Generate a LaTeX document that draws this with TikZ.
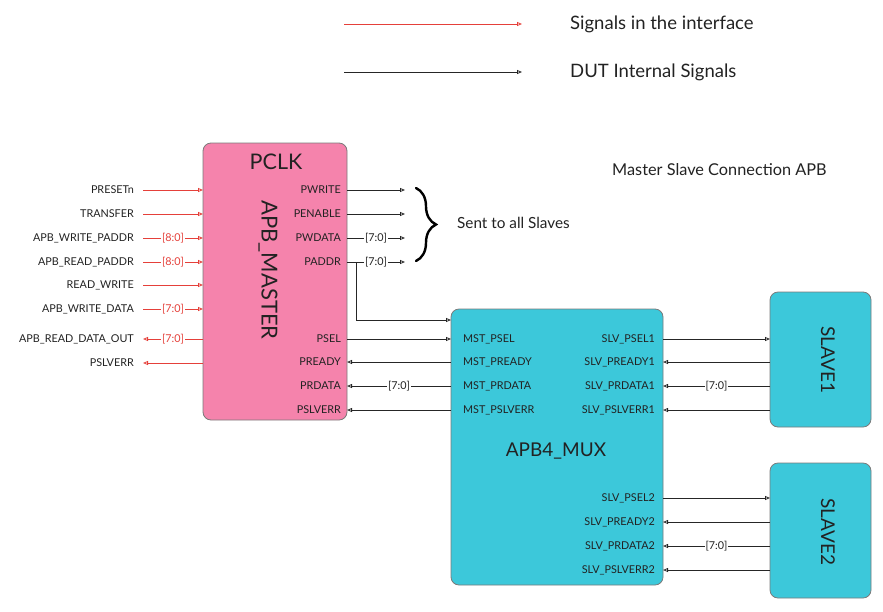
\documentclass[tikz,border=0pt]{standalone}
\usepackage{fontspec}
\setmainfont{Lato}
\usetikzlibrary{arrows.meta,decorations.pathreplacing}
\definecolor{sigred}{HTML}{E5403A}
\definecolor{pinkfill}{HTML}{F583AC}
\definecolor{cyanfill}{HTML}{3CC8DA}
\definecolor{boxline}{HTML}{7A7A7A}
\definecolor{txt}{HTML}{222222}
\begin{document}
\begin{tikzpicture}[x=1pt,y=-1pt,
  tip/.style={-{Triangle[open,length=5pt,width=4pt]}},
  wire/.style={tip,line width=0.8pt,draw=black!85},
  rwire/.style={tip,line width=0.8pt,draw=sigred},
  pin/.style={font=\fontsize{10.8}{12}\selectfont,text=txt,inner sep=0pt},
  bus/.style={font=\fontsize{10.8}{12}\selectfont,fill=white,inner xsep=1pt,inner ysep=1pt,text=txt},
  rbus/.style={bus,text=sigred},
  block/.style={draw=boxline,line width=0.8pt,rounded corners=8pt,inner sep=0pt},
  title/.style={text=txt,inner sep=0pt}
]
\path[use as bounding box] (0,0) rectangle (883,611);

% legend
\coordinate (lr1) at (344,24);
\coordinate (lr2) at (522,24);
\coordinate (lb1) at (344,72);
\coordinate (lb2) at (522,72);
\draw[rwire] (lr1) -- (lr2);
\draw[wire] (lb1) -- (lb2);
\node[title,anchor=west,font=\fontsize{18.5}{22}\selectfont] (leg1) at (570,24) {Signals in the interface};
\node[title,anchor=west,font=\fontsize{18.5}{22}\selectfont] (leg2) at (570,72) {DUT Internal Signals};

\node[title,anchor=west,font=\fontsize{16.3}{19}\selectfont] (caption) at (612,170) {Master Slave Connection APB};

% blocks
\node[block,fill=pinkfill,minimum width=144pt,minimum height=277pt] (master) at (275,281.5) {};
\node[title,font=\fontsize{21.5}{25}\selectfont] (pclk) at (276,162) {PCLK};
\node[title,font=\fontsize{22}{26}\selectfont,rotate=-90] (mastername) at (268,270) {APB\_MASTER};

\node[block,fill=cyanfill,minimum width=212pt,minimum height=276pt] (mux) at (557,447) {};
\node[title,font=\fontsize{19}{22}\selectfont] (muxname) at (556,451) {APB4\_MUX};

\node[block,fill=cyanfill,minimum width=101pt,minimum height=135pt] (s1) at (820.5,359.5) {};
\node[title,font=\fontsize{19}{22}\selectfont,rotate=-90] (s1name) at (828,360) {SLAVE1};
\node[block,fill=cyanfill,minimum width=101pt,minimum height=135pt] (s2) at (820.5,530.5) {};
\node[title,font=\fontsize{19}{22}\selectfont,rotate=-90] (s2name) at (828,532) {SLAVE2};

% master left interface
\foreach \n/\y/\t in {i1/190/PRESETn,i2/214/TRANSFER,i3/238/APB\_WRITE\_PADDR,i4/262/APB\_READ\_PADDR,i5/285/READ\_WRITE,i6/309/APB\_WRITE\_DATA,o1/339/APB\_READ\_DATA\_OUT,o2/363/PSLVERR}{
  \node[pin,anchor=east,inner xsep=9pt] (l\n) at (143,\y) {\t};
  \coordinate (m\n) at (203,\y);
}
\draw[rwire] (li1.east) -- (mi1);
\draw[rwire] (li2.east) -- (mi2);
\draw[rwire] (li3.east) -- node[rbus]{[8:0]} (mi3);
\draw[rwire] (li4.east) -- node[rbus]{[8:0]} (mi4);
\draw[rwire] (li5.east) -- (mi5);
\draw[rwire] (li6.east) -- node[rbus]{[7:0]} (mi6);
\draw[rwire] (mo1) -- node[rbus]{[7:0]} (lo1.east);
\draw[rwire] (mo2) -- (lo2.east);

% master right pins
\foreach \n/\y/\t in {pw/190/PWRITE,pe/214/PENABLE,pd/238/PWDATA,pa/262/PADDR,ps/339/PSEL,pr/362/PREADY,prd/386/PRDATA,pv/410/PSLVERR}{
  \node[pin,anchor=east] (n\n) at (341,\y) {\t};
  \coordinate (c\n) at (347,\y);
}
\coordinate (epw) at (405,190);
\coordinate (epe) at (405,214);
\coordinate (epd) at (405,238);
\coordinate (epa) at (405,262);
\draw[wire] (cpw) -- (epw);
\draw[wire] (cpe) -- (epe);
\draw[wire] (cpd) -- node[bus]{[7:0]} (epd);
\draw[wire] (cpa) -- node[bus]{[7:0]} (epa);

% brace
\coordinate (bt) at (416,188);
\coordinate (bb) at (416,261);
\draw[decorate,decoration={brace,amplitude=20pt},line width=2.4pt,line cap=round] (bt) -- (bb);
\node[title,anchor=west,font=\fontsize{15.3}{18}\selectfont] (sent) at (457,223) {Sent to all Slaves};

% mux left pins
\foreach \n/\y/\t in {ms/339/MST\_PSEL,mr/362/MST\_PREADY,md/386/MST\_PRDATA,mv/410/MST\_PSLVERR}{
  \node[pin,anchor=west] (n\n) at (463,\y) {\t};
  \coordinate (c\n) at (451,\y);
}
\coordinate (br) at (356,262);
\coordinate (mpa) at (451,320);
\draw[wire] (br) |- (mpa);
\draw[wire] (cps) -- (cms);
\draw[wire] (cmr) -- (cpr);
\draw[wire] (cmd) -- node[bus]{[7:0]} (cprd);
\draw[wire] (cmv) -- (cpv);

% mux right pins and slaves
\foreach \n/\y/\t in {a1/339/SLV\_PSEL1,b1/362/SLV\_PREADY1,c1/386/SLV\_PRDATA1,d1/410/SLV\_PSLVERR1,a2/498/SLV\_PSEL2,b2/522/SLV\_PREADY2,c2/546/SLV\_PRDATA2,d2/570/SLV\_PSLVERR2}{
  \node[pin,anchor=east] (n\n) at (655,\y) {\t};
  \coordinate (m\n) at (663,\y);
  \coordinate (s\n) at (770,\y);
}
\draw[wire] (ma1) -- (sa1);
\draw[wire] (sb1) -- (mb1);
\draw[wire] (sc1) -- node[bus]{[7:0]} (mc1);
\draw[wire] (sd1) -- (md1);
\draw[wire] (ma2) -- (sa2);
\draw[wire] (sb2) -- (mb2);
\draw[wire] (sc2) -- node[bus]{[7:0]} (mc2);
\draw[wire] (sd2) -- (md2);
\end{tikzpicture}
\end{document}
